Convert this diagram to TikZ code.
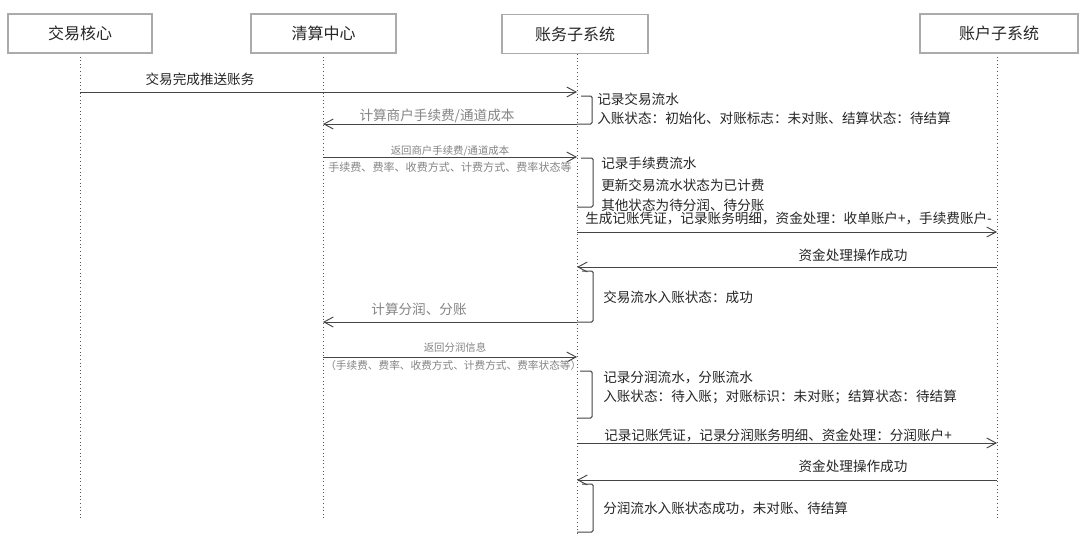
\documentclass[tikz,border=0pt]{standalone}
\usepackage{fontspec}
\setmainfont{Noto Sans CJK SC}
\usetikzlibrary{arrows.meta}
\definecolor{lncol}{HTML}{454545}
\definecolor{txt}{HTML}{262626}
\definecolor{gtxt}{HTML}{858585}
\definecolor{boxcol}{HTML}{ABABAB}
\definecolor{lifecol}{HTML}{555555}
\begin{document}
\begin{tikzpicture}[x=0.75pt,y=-0.75pt,
  actor/.style={draw=boxcol, line width=0.9pt, fill=white, minimum height=29.25pt, inner sep=0pt, font=\fontsize{12}{14}\selectfont, text=txt},
  life/.style={draw=lifecol, line width=0.7pt, dotted},
  msg/.style={draw=lncol, line width=0.75pt, -{Straight Barb[length=7pt,width=7.5pt,line width=0.7pt]}},
  selfbr/.style={draw=lncol, line width=0.75pt, rounded corners=1pt},
  lbl/.style={font=\fontsize{10.2}{12}\selectfont, text=txt, inner sep=0pt},
  glbl/.style={font=\fontsize{10.2}{12}\selectfont, text=gtxt, inner sep=0pt},
  slbl/.style={font=\fontsize{7.8}{9}\selectfont, text=gtxt, inner sep=0pt},
  mlbl/.style={font=\fontsize{8.3}{10}\selectfont, text=gtxt, inner sep=0pt},
  notelbl/.style={font=\fontsize{10.2}{12}\selectfont, text=txt, inner sep=0pt, anchor=west}]
\useasboundingbox (0,0) rectangle (1080,539);
\fill[white] (0,0) rectangle (1080,539);

% lifeline end points
\coordinate (la) at (80,53);   \coordinate (laE) at (80,518);
\coordinate (lb) at (323,53);  \coordinate (lbE) at (323,518);
\coordinate (lc) at (577,54);  \coordinate (lcE) at (577,536);
\coordinate (ld) at (997,53);  \coordinate (ldE) at (997,520);

\draw[life] (la) -- (laE);
\draw[life] (lb) -- (lbE);
\draw[life] (lc) -- (lcE);
\draw[life] (ld) -- (ldE);

% actors
\node[actor, minimum width=108pt] (A) at (80,33.5) {交易核心};
\node[actor, minimum width=108.75pt] (B) at (323.5,33.5) {清算中心};
\node[actor, minimum width=109.5pt] (C) at (575,34) {账务子系统};
\node[actor, minimum width=118.5pt] (D) at (999,33.5) {账户子系统};

% message 1
\draw[msg] (la |- 0,92) -- (lc |- 0,92);
\node[lbl] (m1) at (200,79) {交易完成推送账务};
% self 1
\draw[selfbr] (581,96) -- (592,96) -- (592,124) -- (lc |- 0,124);
\node[notelbl] (n1a) at (597,99) {记录交易流水};
\node[notelbl] (n1b) at (597,118) {入账状态：初始化、对账标志：未对账、结算状态：待结算};
% message 2
\draw[msg] (lc |- 0,124) -- (lb |- 0,124);
\node[glbl] (m2) at (437,116) {计算商户手续费/通道成本};
% message 3
\draw[msg] (lb |- 0,157) -- (lc |- 0,157);
\node[slbl] (m3) at (450,151) {返回商户手续费/通道成本};
\node[mlbl, anchor=west] (m3b) at (328,167.5) {手续费、费率、收费方式、计费方式、费率状态等};
% self 2
\draw[selfbr] (581,158) -- (593,158) -- (593,207) -- (lc |- 0,207);
\node[notelbl] (n2a) at (601,163) {记录手续费流水};
\node[notelbl] (n2b) at (601,185) {更新交易流水状态为已计费};
\node[notelbl] (n2c) at (601,205) {其他状态为待分润、待分账};
% message 4
\draw[msg] (lc |- 0,232) -- (ld |- 0,232);
\node[lbl, anchor=west] (m4) at (585,218) {生成记账凭证，记录账务明细，资金处理：收单账户+，手续费账户-};
% message 5
\draw[msg] (ld |- 0,267) -- (lc |- 0,267);
\node[lbl] (m5) at (853,255) {资金处理操作成功};
% self 3
\draw[selfbr] (582,271) -- (593,271) -- (593,322) -- (lc |- 0,322);
\node[notelbl] (n3) at (603,297) {交易流水入账状态：成功};
% message 6
\draw[msg] (lc |- 0,322) -- (lb |- 0,322);
\node[glbl] (m6) at (419,309) {计算分润、分账};
% message 7
\draw[msg] (lb |- 0,357) -- (lc |- 0,357);
\node[slbl] (m7) at (455,348) {返回分润信息};
\node[mlbl, anchor=west, font=\fontsize{8}{10}\selectfont] (m7b) at (325,365.5) {（手续费、费率、收费方式、计费方式、费率状态等）};
% self 4
\draw[selfbr] (580,371) -- (592,371) -- (592,418) -- (lc |- 0,418);
\node[notelbl] (n4a) at (603,377) {记录分润流水，分账流水};
\node[notelbl] (n4b) at (603,397) {入账状态：待入账；对账标识：未对账；结算状态：待结算};
% message 8
\draw[msg] (lc |- 0,443) -- (ld |- 0,443);
\node[lbl, anchor=west] (m8) at (604,435) {记录记账凭证，记录分润账务明细、资金处理：分润账户+};
% message 9
\draw[msg] (ld |- 0,480) -- (lc |- 0,480);
\node[lbl] (m9) at (853,466) {资金处理操作成功};
% self 5
\draw[selfbr] (582,484) -- (593,484) -- (593,532) -- (lc |- 0,532);
\node[notelbl] (n5) at (603,508) {分润流水入账状态成功，未对账、待结算};
\end{tikzpicture}
\end{document}
